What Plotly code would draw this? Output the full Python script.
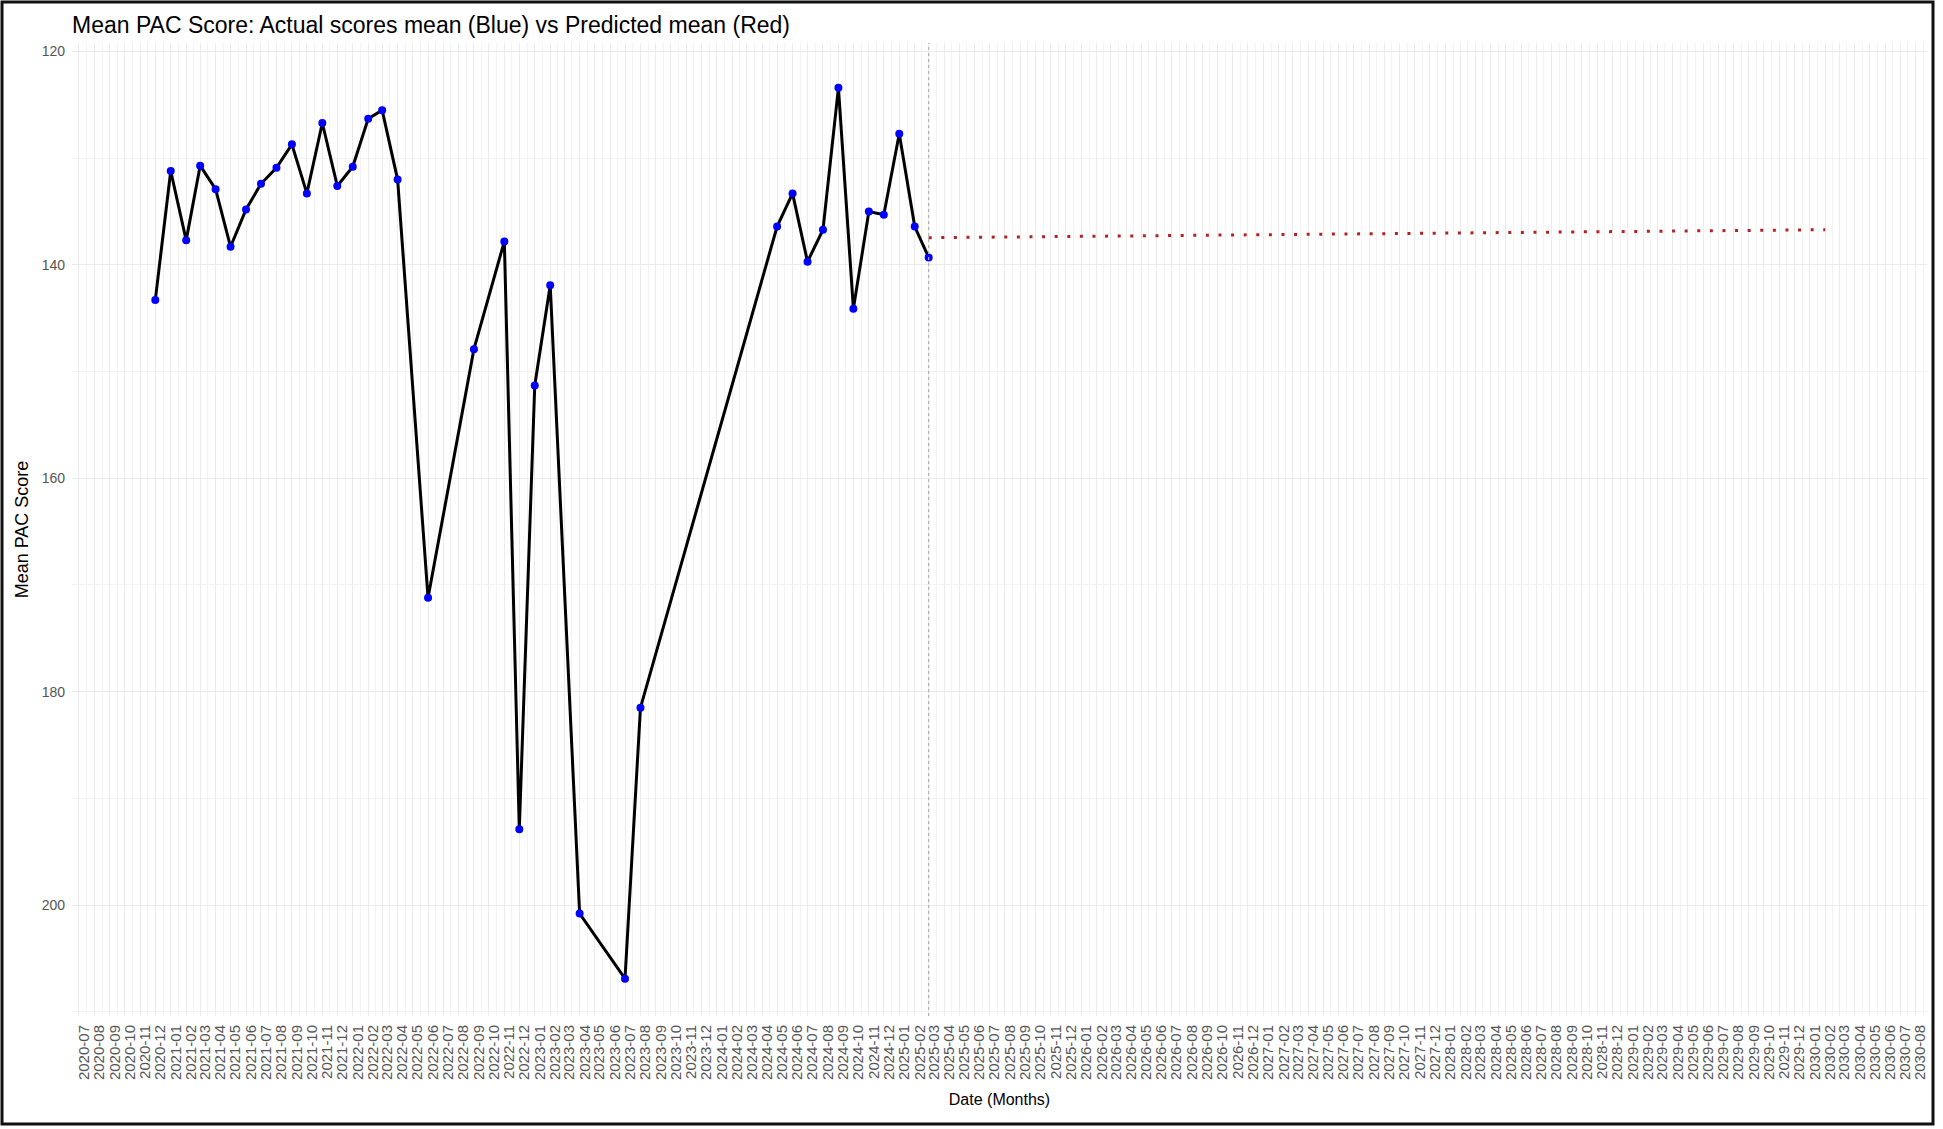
import plotly.graph_objects as go
import pandas as pd

# ---- data ----
actual_dates = [
    "2020-12-01", "2021-01-01", "2021-02-01", "2021-03-01", "2021-04-01", "2021-05-01",
    "2021-06-01", "2021-07-01", "2021-08-01", "2021-09-01", "2021-10-01", "2021-11-01",
    "2021-12-01", "2022-01-01", "2022-02-01", "2022-03-01", "2022-04-01", "2022-06-01",
    "2022-09-01", "2022-11-01", "2022-12-01", "2023-01-01", "2023-02-01", "2023-04-01",
    "2023-07-01", "2023-08-01", "2024-05-01", "2024-06-01", "2024-07-01", "2024-08-01",
    "2024-09-01", "2024-10-01", "2024-11-01", "2024-12-01", "2025-01-01", "2025-02-01",
    "2025-03-01",
]
actual_scores = [
    143.3, 131.2, 137.7, 130.7, 132.9, 138.3,
    134.8, 132.4, 130.9, 128.7, 133.3, 126.7,
    132.6, 130.8, 126.3, 125.5, 132.0, 171.2,
    147.9, 137.8, 192.9, 151.3, 141.9, 200.8,
    206.9, 181.5, 136.4, 133.3, 139.7, 136.7,
    123.4, 144.1, 135.0, 135.3, 127.7, 136.4,
    139.3,
]
pred_dates = ["2025-03-01", "2026-03-01", "2027-03-01", "2028-03-01", "2029-03-01", "2030-02-01"]
pred_scores = [137.45, 137.3, 137.15, 137.0, 136.85, 136.7]

tick_start = "2020-07-01"
tick_end = "2030-08-01"

W, H = 1943, 1129
ML, MR, MT, MB = 72, 16, 43, 113
PW, PH = W - ML - MR, H - MT - MB

month_ticks = pd.date_range(tick_start, tick_end, freq="MS")
mids = [month_ticks[i] + (month_ticks[i + 1] - month_ticks[i]) / 2 for i in range(len(month_ticks) - 1)]
mids = [month_ticks[0] - pd.Timedelta(days=15)] + mids + [month_ticks[-1] + pd.Timedelta(days=15)]

fig = go.Figure()
fig.add_trace(go.Scatter(
    x=pred_dates, y=pred_scores, mode="lines",
    line=dict(color="#b22222", width=3, dash="3px,9.6px"),
    showlegend=False, hoverinfo="skip",
))
fig.add_trace(go.Scatter(
    x=actual_dates, y=actual_scores, mode="lines+markers",
    line=dict(color="black", width=3),
    marker=dict(color="#0000ff", size=8),
    showlegend=False,
))

fig.add_vline(x=actual_dates[-1], line=dict(color="#b0b0b0", width=1.2, dash="dot"))


def px2paper_x(px):
    return (px - ML) / PW


def px2paper_y(py):
    return 1 - (py - MT) / PH


# outer frame around the whole picture
fig.add_shape(type="rect", xref="paper", yref="paper",
              x0=px2paper_x(2), x1=px2paper_x(1933), y0=px2paper_y(1124), y1=px2paper_y(2),
              line=dict(color="#111111", width=3), fillcolor="rgba(0,0,0,0)", layer="above")

fig.update_layout(
    width=W, height=H,
    margin=dict(l=ML, r=MR, t=MT, b=MB, autoexpand=False),
    paper_bgcolor="white", plot_bgcolor="white",
    font=dict(family="Liberation Sans, Arial, sans-serif", color="#4d4d4d"),
    title=dict(text="Mean PAC Score: Actual scores mean (Blue) vs Predicted mean (Red)",
               x=72 / W, xanchor="left", y=1 - 25 / H, yanchor="middle",
               font=dict(size=23, color="black")),
    xaxis=dict(
        range=["2020-06-17", "2030-08-24"],
        tickmode="array", tickvals=list(month_ticks), tickformat="%Y-%m",
        tickangle=-90, tickfont=dict(size=15, color="#555555"),
        ticklabelshift=5, ticklabelstandoff=5,
        showgrid=True, gridcolor="#ebebeb", gridwidth=1,
        minor=dict(tickmode="array", tickvals=mids, showgrid=True, gridcolor="#f3f3f3", gridwidth=0.8),
        zeroline=False, showline=False, ticks="", automargin=False,
        title=dict(text="Date (Months)", font=dict(size=16, color="black"), standoff=14),
    ),
    yaxis=dict(
        range=[210.4, 119.2], tickvals=[120, 140, 160, 180, 200],
        tickfont=dict(size=14, color="#555555"), ticklabelstandoff=6,
        showgrid=True, gridcolor="#ebebeb", gridwidth=1.2,
        minor=dict(dtick=10, tick0=0, showgrid=True, gridcolor="#f3f3f3", gridwidth=0.8),
        zeroline=False, showline=False, ticks="", automargin=False,
        title=dict(text="Mean PAC Score", font=dict(size=18, color="black"), standoff=8),
    ),
)

fig.write_html(
    "out.html",
    config={"displayModeBar": False},
    post_script="document.body.style.margin='0px';document.body.style.overflow='hidden';",
)
